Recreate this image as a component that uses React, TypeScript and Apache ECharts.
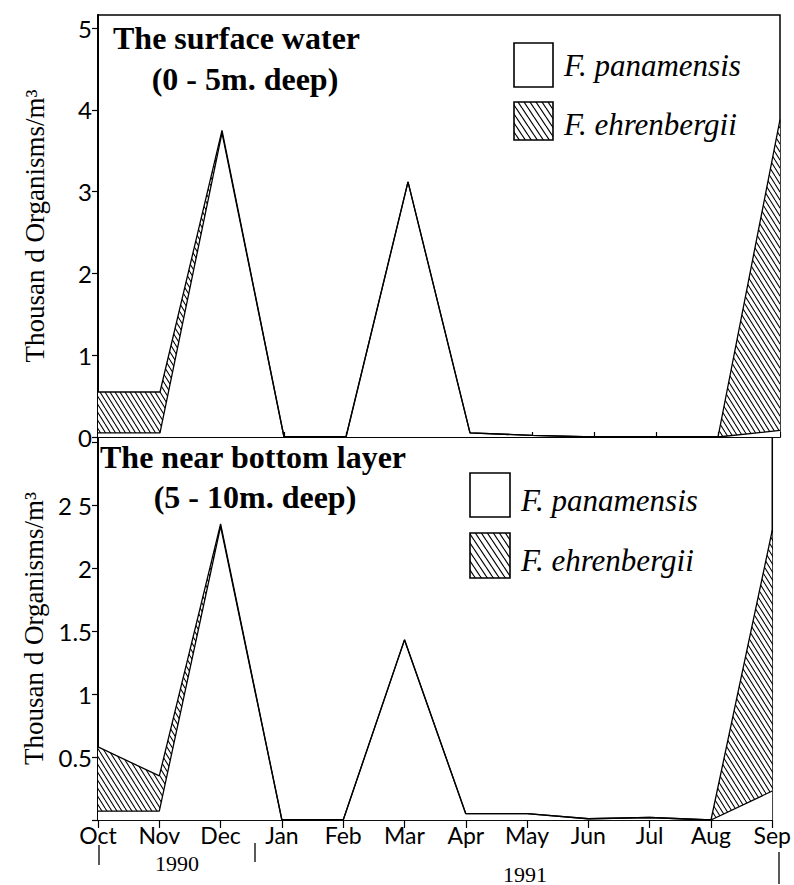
import React, { useEffect, useRef } from "react";
import * as echarts from "echarts";

const months = ["Oct", "Nov", "Dec", "Jan", "Feb", "Mar", "Apr", "May", "Jun", "Jul", "Aug", "Sep"];

// Surface water (0 - 5 m), thousand organisms / m3
const surfacePanamensis = [0.05, 0.05, 3.72, 0, 0, 3.12, 0.05, 0.02, 0, 0, 0, 0.08];
const surfaceEhrenbergii = [0.5, 0.5, 0.03, 0, 0, 0, 0, 0, 0, 0, 0, 3.8];

// Near bottom layer (5 - 10 m)
const bottomPanamensis = [0.07, 0.07, 2.33, 0, 0, 1.43, 0.05, 0.05, 0.01, 0.02, 0, 0.23];
const bottomEhrenbergii = [0.51, 0.28, 0.02, 0, 0, 0, 0, 0, 0, 0, 0, 2.07];

const topTicks = [0, 1, 2, 3, 4, 5];
const topTickLabels = ["0", "1", "2", "3", "4", "5"];
const bottomTicks = [0.5, 1, 1.5, 2, 2.5];
const bottomTickLabels = ["0.5", "1", "1.5", "2", "2 5"];

const yName = "Thousan d Organisms/m³";
const legendNames = ["F. panamensis", "F. ehrenbergii"];
const yearLabels = ["1990", "1991"];

function makeHatch(w: number, h: number, lw: number) {
  const c = document.createElement("canvas");
  c.width = w;
  c.height = h;
  const ctx = c.getContext("2d")!;
  ctx.fillStyle = "#fff";
  ctx.fillRect(0, 0, w, h);
  ctx.strokeStyle = "#000";
  ctx.lineWidth = lw;
  for (const k of [-w, 0, w]) {
    ctx.beginPath();
    ctx.moveTo(k, 0);
    ctx.lineTo(k + w, h);
    ctx.stroke();
  }
  return c;
}

export default function App() {
  const ref = useRef<HTMLDivElement>(null);
  useEffect(() => {
    if (!ref.current) return;
    const chart = echarts.init(ref.current, undefined, { renderer: "svg" });
    const hatchCanvas = makeHatch(5, 8, 1.1);
    const hatch: any = { image: hatchCanvas, repeat: "repeat", imageWidth: 5, imageHeight: 8 };
    const legendHatchCanvas = makeHatch(6, 9, 1.2);
    const legendHatch: any = { image: legendHatchCanvas, repeat: "repeat", imageWidth: 6, imageHeight: 9 };

    const axisFont = "Lato";
    const serif = "Liberation Serif";

    const mkX = (gridIndex: number, showLabels: boolean) => ({
      type: "category",
      gridIndex,
      data: months,
      boundaryGap: false,
      axisLine: { lineStyle: { color: "#000", width: 1.6 } },
      axisTick: {
        show: true,
        inside: !showLabels,
        length: showLabels ? 8 : 5,
        lineStyle: { color: "#000", width: 1.2 },
      },
      axisLabel: {
        show: showLabels,
        color: "#000",
        fontFamily: axisFont,
        fontSize: 23,
        margin: 3,
      },
      splitLine: { show: false },
    });

    const mkY = (gridIndex: number, max: number, interval: number, ticks: number[], labels: string[]) => ({
      type: "value",
      gridIndex,
      min: 0,
      max,
      interval,
      name: yName,
      nameLocation: "middle",
      nameGap: 50,
      nameTextStyle: { fontFamily: serif, fontSize: 27, color: "#000" },
      axisLine: { show: true, lineStyle: { color: "#000", width: 2 } },
      axisTick: { show: true, length: 6, lineStyle: { color: "#000", width: 1.2 } },
      axisLabel: {
        color: "#000",
        fontFamily: axisFont,
        fontSize: 24,
        margin: 6,
        showMaxLabel: false,
        formatter: (v: number) => {
          const i = ticks.indexOf(v);
          return i >= 0 ? labels[i] : "";
        },
      },
      splitLine: { show: false },
    });

    const mkSeries = (
      name: string,
      idx: number,
      data: number[],
      stack: string,
      fill: any
    ) => ({
      name,
      type: "line",
      xAxisIndex: idx,
      yAxisIndex: idx,
      stack,
      data,
      symbol: "none",
      lineStyle: { color: "#000", width: 1.3 },
      itemStyle: { color: "#000" },
      areaStyle: { color: fill, opacity: 1 },
      emphasis: { disabled: true },
    });

    const text = (x: number, y: number, t: string, font: string, align = "left") => ({
      type: "text",
      x,
      y,
      style: { text: t, font, fill: "#000", align, verticalAlign: "middle" },
      z: 100,
    });
    const vbar = (x: number, y1: number, y2: number) => ({
      type: "line",
      shape: { x1: x, y1, x2: x, y2 },
      style: { stroke: "#000", lineWidth: 1.3 },
      z: 100,
    });
    const box = (x: number, y: number, w: number, h: number, fill: any) => ({
      type: "rect",
      shape: { x, y, width: w, height: h },
      style: { fill, stroke: "#000", lineWidth: 1.6 },
      z: 100,
    });

    const titleFont = `bold 32px "${serif}"`;
    const legendFont = `italic 31px "${serif}"`;
    const yearFont = `22px "${serif}"`;

    chart.setOption({
      animation: false,
      backgroundColor: "#fff",
      grid: [
        { left: 98, right: 14, top: 15, height: 422, show: true, borderColor: "#000", borderWidth: 1.5, backgroundColor: "transparent" },
        { left: 98, right: 14, top: 437, height: 383, show: true, borderColor: "#000", borderWidth: 1.5, backgroundColor: "transparent" },
      ],
      xAxis: [mkX(0, false), mkX(1, true)],
      yAxis: [
        mkY(0, 5.16, 1, topTicks, topTickLabels),
        mkY(1, 3.04, 0.5, bottomTicks, bottomTickLabels),
      ],
      series: [
        mkSeries(legendNames[0], 0, surfacePanamensis, "top", "#fff"),
        mkSeries(legendNames[1], 0, surfaceEhrenbergii, "top", hatch),
        mkSeries(legendNames[0], 1, bottomPanamensis, "bottom", "#fff"),
        mkSeries(legendNames[1], 1, bottomEhrenbergii, "bottom", hatch),
      ],
      graphic: [
        text(113, 38, "The surface water", titleFont),
        text(245, 79, "(0 - 5m. deep)", titleFont, "center"),
        text(100, 457, "The near bottom layer", titleFont),
        text(255, 497, "(5 - 10m. deep)", titleFont, "center"),
        box(514, 43, 39, 44, "#fff"),
        box(514, 102, 39, 38, legendHatch),
        text(564, 65, legendNames[0], legendFont),
        text(564, 124, legendNames[1], legendFont),
        box(470, 473, 40, 44, "#fff"),
        box(470, 533, 40, 45, legendHatch),
        text(521, 500, legendNames[0], legendFont),
        text(521, 560, legendNames[1], legendFont),
        text(177, 863, yearLabels[0], yearFont, "center"),
        text(525, 874, yearLabels[1], yearFont, "center"),
        vbar(99, 845, 865),
        vbar(255, 843, 862),
        vbar(779, 852, 884),
      ],
    });
    return () => chart.dispose();
  }, []);
  return (
    <div
      ref={ref}
      style={{ position: "absolute", left: 0, top: 0, width: 794, height: 885, background: "#fff" }}
    />
  );
}
